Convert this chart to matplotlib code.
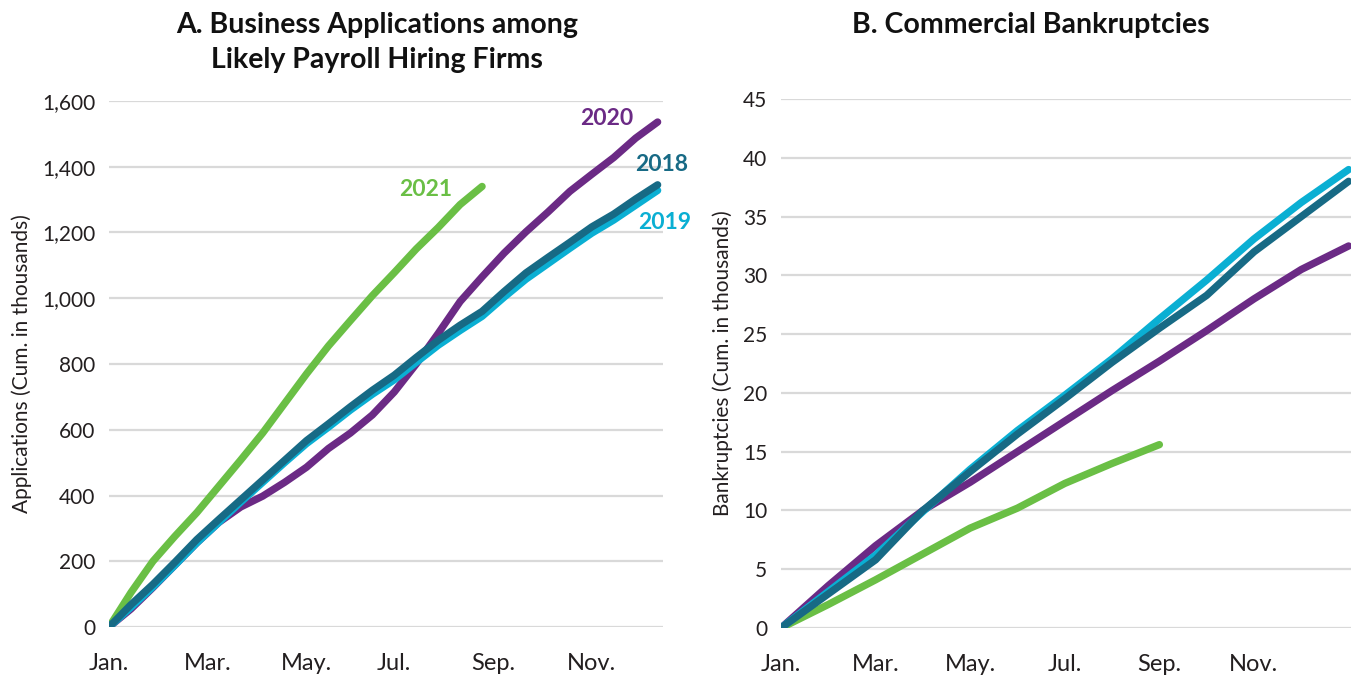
"""
Business applications vs. commercial bankruptcies, cumulative by year
"""

import matplotlib
matplotlib.use("Agg")
import matplotlib.pyplot as plt

plt.rcParams["font.family"] = ["Lato", "DejaVu Sans"]

# panel A: weekly cumulative applications (thousands), every 2nd week
app_weeks = list(range(0, 51, 2))
app_weeks_2021 = list(range(0, 35, 2))
apps_2018 = [0, 68, 130, 197, 266, 327, 387, 447, 507, 567, 618, 670, 720,
             766, 820, 872, 918, 960, 1020, 1077, 1124, 1170, 1217, 1256, 1302, 1345]
apps_2019 = [0, 60, 122, 188, 256, 318, 380, 440, 500, 558, 608, 660, 708,
             752, 805, 857, 902, 945, 1003, 1058, 1105, 1152, 1198, 1238, 1283, 1328]
apps_2020 = [0, 55, 120, 188, 256, 318, 365, 398, 440, 486, 543, 590, 645,
             715, 800, 893, 990, 1065, 1137, 1202, 1262, 1325, 1377, 1428, 1487, 1536]
apps_2021 = [0, 105, 200, 276, 348, 428, 508, 590, 680, 770, 855, 932, 1008,
             1078, 1150, 1215, 1285, 1340]

# panel B: monthly cumulative bankruptcies (thousands)
bk_months = list(range(13))
bk_months_2021 = list(range(9))
bk_2018 = [0, 2.9, 5.8, 10.0, 13.3, 16.5, 19.5, 22.6, 25.5, 28.3, 32.0, 35.0, 38.0]
bk_2019 = [0, 3.1, 6.2, 9.9, 13.5, 16.8, 19.8, 22.9, 26.3, 29.6, 33.1, 36.2, 39.0]
bk_2020 = [0, 3.6, 7.0, 10.0, 12.4, 15.0, 17.6, 20.2, 22.7, 25.3, 28.0, 30.5, 32.5]
bk_2021 = [0, 2.0, 4.1, 6.3, 8.5, 10.2, 12.3, 14.0, 15.6]

month_labels = ["Jan.", "Mar.", "May.", "Jul.", "Sep.", "Nov."]
week_ticks = [0, 9, 18, 26, 35, 44]
month_ticks = [0, 2, 4, 6, 8, 10]

C18 = "#176a85"
C19 = "#0aafd3"
C20 = "#6b2a85"
C21 = "#6abf45"
GRID = "#d9d9d9"
INK = "#231f20"
LW = 5.3


def style(ax, yticks, ylabel):
    for s in ax.spines.values():
        s.set_visible(False)
    ax.set_yticks(yticks)
    ax.grid(axis="y", color=GRID, linewidth=1.6)
    ax.set_axisbelow(True)
    ax.tick_params(axis="both", length=0, colors=INK)
    ax.tick_params(axis="x", pad=19, labelsize=17)
    ax.tick_params(axis="y", pad=10, labelsize=15)
    ax.set_ylabel(ylabel, fontsize=15, color=INK, labelpad=7)


fig = plt.figure(figsize=(13.53, 6.75), dpi=100)

ax1 = fig.add_axes([0.0806, 0.0711, 0.4095, 0.7793])
for y, c in [(apps_2021, C21), (apps_2020, C20), (apps_2019, C19), (apps_2018, C18)]:
    x = app_weeks_2021 if y is apps_2021 else app_weeks
    ax1.plot(x, y, color=c, lw=LW, solid_capstyle="round", solid_joinstyle="round")
ax1.set_xlim(0, 50.5)
ax1.set_ylim(0, 1600)
ax1.set_xticks(week_ticks)
ax1.set_xticklabels(month_labels)
style(ax1, range(0, 1601, 200), "Applications (Cum. in thousands)")
ax1.yaxis.set_major_formatter(matplotlib.ticker.FuncFormatter(lambda v, p: f"{v:,.0f}"))

lab = dict(fontsize=16.5, fontweight="bold", ha="center", va="center")
ax1.text(45.4, 1548, "2020", color=C20, **lab)
ax1.text(50.4, 1408, "2018", color=C18, **lab)
ax1.text(50.6, 1231, "2019", color=C19, **lab)
ax1.text(28.9, 1332, "2021", color=C21, **lab)

ax2 = fig.add_axes([0.5772, 0.0696, 0.4213, 0.7837])
ax2.plot(bk_months_2021, bk_2021, color=C21, lw=LW, solid_capstyle="round")
ax2.plot(bk_months, bk_2020, color=C20, lw=LW, solid_capstyle="round")
ax2.plot(bk_months, bk_2019, color=C19, lw=LW, solid_capstyle="round")
ax2.plot(bk_months, bk_2018, color=C18, lw=LW, solid_capstyle="round")
ax2.set_xlim(0, 12.05)
ax2.set_ylim(0, 45)
ax2.set_xticks(month_ticks)
ax2.set_xticklabels(month_labels)
style(ax2, range(0, 46, 5), "Bankruptcies (Cum. in thousands)")

title = dict(fontsize=20.5, fontweight="bold", ha="center", va="center", color="#111111")
fig.text(377 / 1353, 1 - 25 / 675, "A. Business Applications among", **title)
fig.text(377 / 1353, 1 - 60 / 675, "Likely Payroll Hiring Firms", **title)
fig.text(1031 / 1353, 1 - 25 / 675, "B. Commercial Bankruptcies", **title)

fig.savefig("out.png", dpi=100)
